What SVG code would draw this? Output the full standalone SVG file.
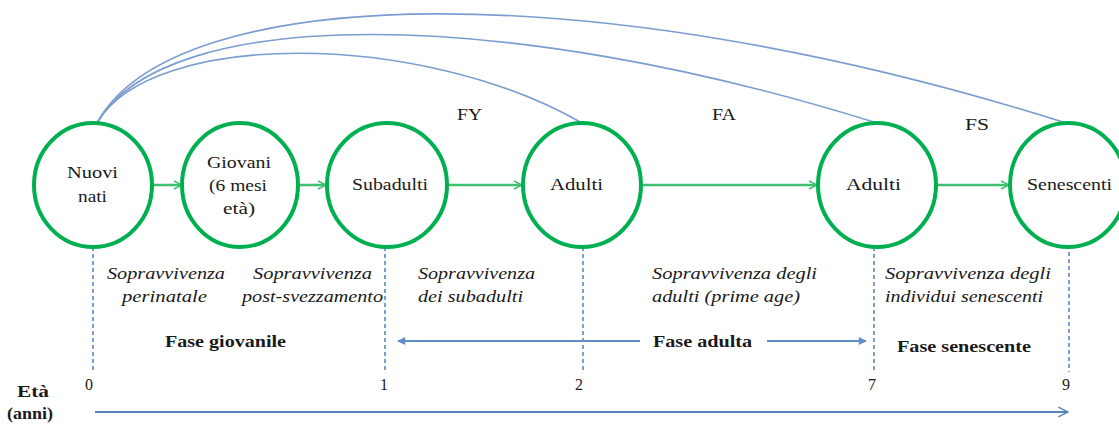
<svg xmlns="http://www.w3.org/2000/svg" width="1119" height="425" viewBox="0 0 1119 425">
<defs>
<style>
.node{fill:#fff;stroke:#00b050;stroke-width:4}
.t{font-size:16px;fill:#1a1a1a}
.i{font-style:italic}
.b{font-weight:bold}
.g{stroke:#3fbf70;stroke-width:2.5;fill:none;marker-end:url(#ga)}
.arc{stroke:#7b9dd0;stroke-width:1.6;fill:none}
.dash{stroke:#5b87c5;stroke-width:1.6;stroke-dasharray:4 3;fill:none}
.ax{stroke:#5a84be;stroke-width:2;fill:none}
</style>
<marker id="ga" viewBox="0 0 10 10" refX="9" refY="5" markerWidth="4" markerHeight="4" orient="auto" markerUnits="strokeWidth">
<path d="M1,1 L9,5 L1,9" fill="none" stroke="#3fbf70" stroke-width="1.5"/>
</marker>
<marker id="oa" viewBox="0 0 10 10" refX="9" refY="5" markerWidth="6" markerHeight="6" orient="auto" markerUnits="strokeWidth">
<path d="M1,1 L9,5 L1,9" fill="none" stroke="#5a84be" stroke-width="1.2"/>
</marker>
<marker id="fa" viewBox="0 0 10 10" refX="9" refY="5" markerWidth="5" markerHeight="4" orient="auto" markerUnits="strokeWidth">
<path d="M0,0 L10,5 L0,10 Z" fill="#5f8dc8"/>
</marker>
</defs>
<rect width="1119" height="425" fill="#fff"/>
<g id="connectors">
<path class="arc" d="M97,123 C150,30 420,30 582,123"/>
<path class="arc" d="M97,123 C165,5 500,5 877,123"/>
<path class="arc" d="M97,123 C175,-20 600,-25 1066,123"/>
<line class="g" x1="153" y1="185" x2="182" y2="185"/>
<line class="g" x1="298" y1="185" x2="326" y2="185"/>
<line class="g" x1="447" y1="185" x2="522" y2="185"/>
<line class="g" x1="642" y1="185" x2="817" y2="185"/>
<line class="g" x1="936" y1="185" x2="1009" y2="185"/>
<line class="dash" x1="93" y1="247" x2="93" y2="372"/>
<line class="dash" x1="385" y1="247" x2="385" y2="372"/>
<line class="dash" x1="583" y1="247" x2="583" y2="372"/>
<line class="dash" x1="874" y1="247" x2="874" y2="372"/>
<line class="dash" x1="1069" y1="245" x2="1069" y2="372"/>
<line x1="640" y1="341" x2="398" y2="341" stroke="#5f8dc8" stroke-width="2" marker-end="url(#fa)"/>
<line x1="767" y1="341" x2="866" y2="341" stroke="#5f8dc8" stroke-width="2" marker-end="url(#fa)"/>
<line class="ax" x1="95" y1="412" x2="1068" y2="412" marker-end="url(#oa)"/>
</g>
<g font-family="Liberation Serif, Times New Roman, serif">
<g id="n-nuovi">
<ellipse class="node" cx="93" cy="185" rx="59" ry="62"/>
<text class="t" x="67" y="178" textLength="51" lengthAdjust="spacingAndGlyphs">Nuovi</text>
<text class="t" x="78" y="202" textLength="29" lengthAdjust="spacingAndGlyphs">nati</text>
</g>
<g id="n-giovani">
<ellipse class="node" cx="240" cy="185" rx="58" ry="62"/>
<text class="t" x="207" y="168" textLength="64" lengthAdjust="spacingAndGlyphs">Giovani</text>
<text class="t" x="209" y="191" textLength="58" lengthAdjust="spacingAndGlyphs">(6 mesi</text>
<text class="t" x="223" y="214" textLength="32" lengthAdjust="spacingAndGlyphs">età)</text>
</g>
<g id="n-subadulti">
<ellipse class="node" cx="387" cy="185" rx="60" ry="62"/>
<text class="t" x="352" y="190" textLength="76" lengthAdjust="spacingAndGlyphs">Subadulti</text>
</g>
<g id="n-adulti1">
<ellipse class="node" cx="582" cy="185" rx="59" ry="62"/>
<text class="t" x="550" y="190" textLength="53" lengthAdjust="spacingAndGlyphs">Adulti</text>
</g>
<g id="n-adulti2">
<ellipse class="node" cx="877" cy="185" rx="59" ry="62"/>
<text class="t" x="846" y="190" textLength="55" lengthAdjust="spacingAndGlyphs">Adulti</text>
</g>
<g id="n-senescenti">
<ellipse class="node" cx="1068" cy="185" rx="58" ry="62"/>
<text class="t" x="1027" y="190" textLength="85" lengthAdjust="spacingAndGlyphs">Senescenti</text>
</g>
<g id="labels">
<text class="t" x="457" y="120" textLength="25" lengthAdjust="spacingAndGlyphs">FY</text>
<text class="t" x="712" y="120" textLength="24" lengthAdjust="spacingAndGlyphs">FA</text>
<text class="t" x="965" y="130" textLength="24" lengthAdjust="spacingAndGlyphs">FS</text>
<text class="t i" x="107" y="279" textLength="118" lengthAdjust="spacingAndGlyphs">Sopravvivenza</text>
<text class="t i" x="122" y="302" textLength="85" lengthAdjust="spacingAndGlyphs">perinatale</text>
<text class="t i" x="253" y="279" textLength="119" lengthAdjust="spacingAndGlyphs">Sopravvivenza</text>
<text class="t i" x="242" y="302" textLength="141" lengthAdjust="spacingAndGlyphs">post-svezzamento</text>
<text class="t i" x="418" y="279" textLength="117" lengthAdjust="spacingAndGlyphs">Sopravvivenza</text>
<text class="t i" x="418" y="302" textLength="105" lengthAdjust="spacingAndGlyphs">dei subadulti</text>
<text class="t i" x="652" y="279" textLength="165" lengthAdjust="spacingAndGlyphs">Sopravvivenza degli</text>
<text class="t i" x="652" y="302" textLength="148" lengthAdjust="spacingAndGlyphs">adulti (prime age)</text>
<text class="t i" x="885" y="279" textLength="166" lengthAdjust="spacingAndGlyphs">Sopravvivenza degli</text>
<text class="t i" x="885" y="302" textLength="158" lengthAdjust="spacingAndGlyphs">individui senescenti</text>
<text class="t b" x="165" y="347" textLength="121" lengthAdjust="spacingAndGlyphs">Fase giovanile</text>
<text class="t b" x="653" y="347" textLength="99" lengthAdjust="spacingAndGlyphs">Fase adulta</text>
<text class="t b" x="897" y="352" textLength="134" lengthAdjust="spacingAndGlyphs">Fase senescente</text>
<text class="t" x="89" y="390" text-anchor="middle">0</text>
<text class="t" x="384" y="390" text-anchor="middle">1</text>
<text class="t" x="579" y="390" text-anchor="middle">2</text>
<text class="t" x="872" y="390" text-anchor="middle">7</text>
<text class="t" x="1066" y="390" text-anchor="middle">9</text>
<text class="t b" x="17" y="397" textLength="32" lengthAdjust="spacingAndGlyphs">Età</text>
<text class="t b" x="7" y="419" textLength="46" lengthAdjust="spacingAndGlyphs">(anni)</text>
</g>
</g>
</svg>
